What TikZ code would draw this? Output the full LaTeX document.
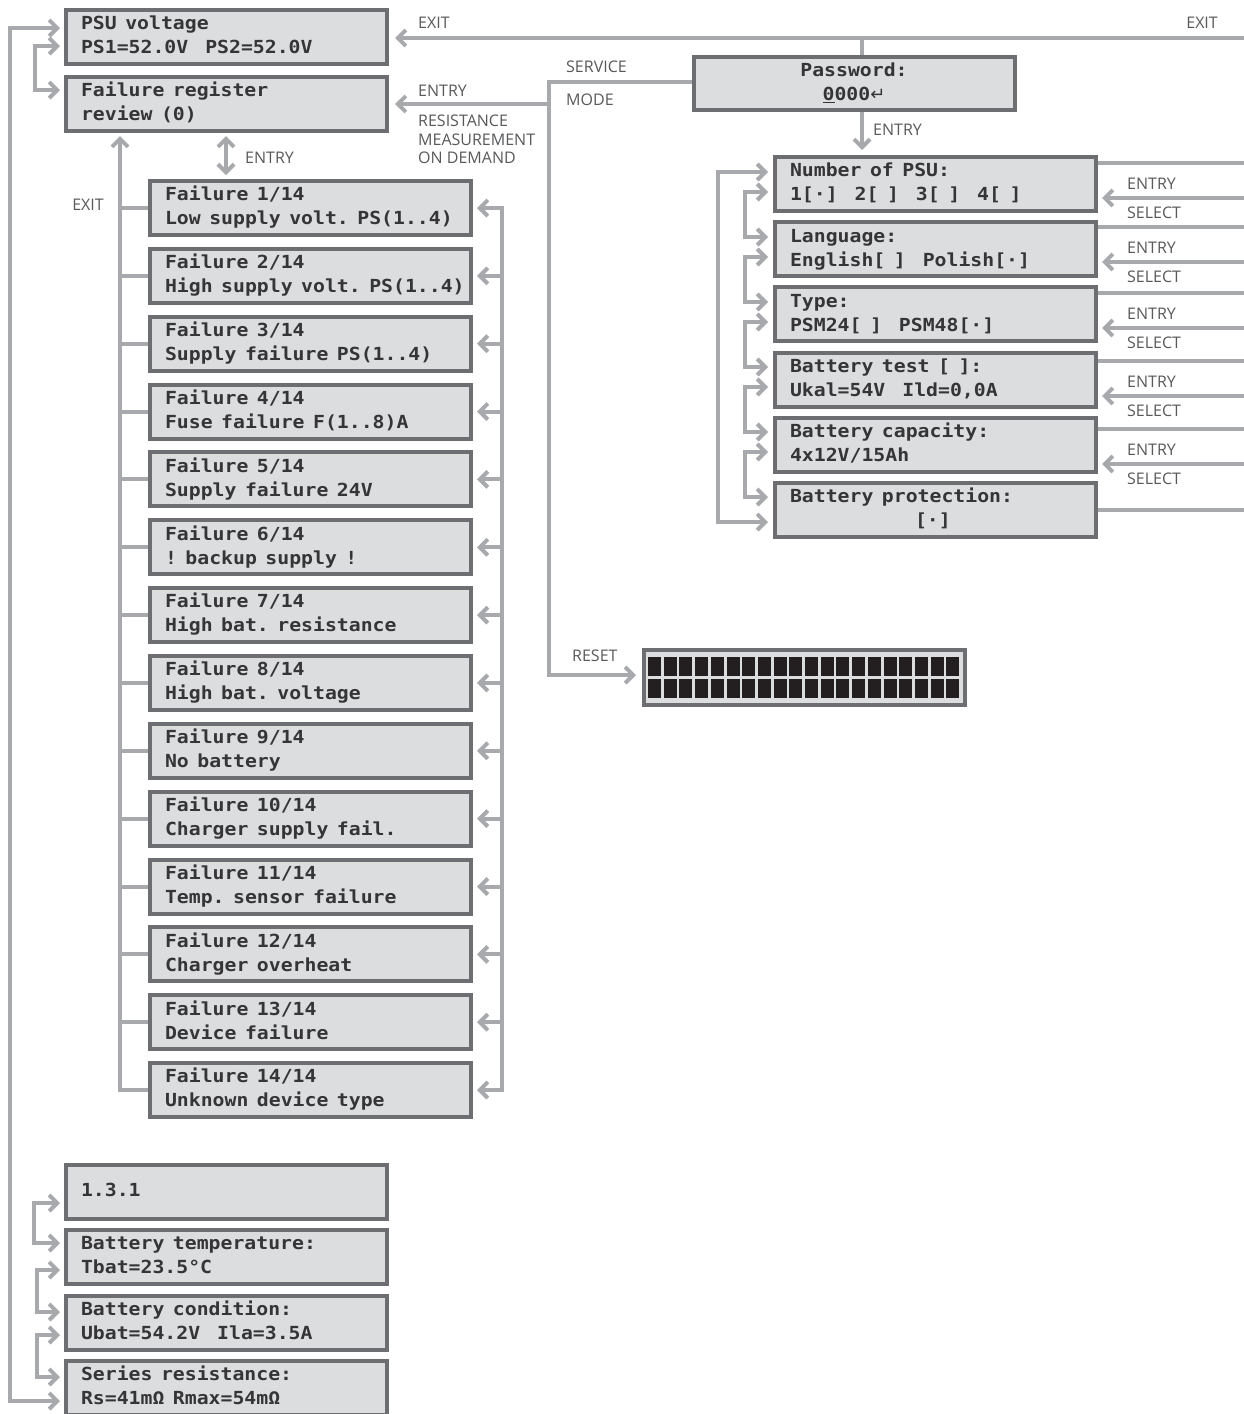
\documentclass[tikz,border=0pt]{standalone}
\usepackage{fontspec}
\usetikzlibrary{arrows.meta,calc}
\newfontfamily\lcdfont{DejaVu Sans Mono}[UprightFont=* Bold, FakeStretch=1.1]
\newfontfamily\lblfont{Open Sans}
\newfontfamily\symfont{DejaVu Sans}
\definecolor{boxfill}{HTML}{DCDDDE}
\definecolor{boxdraw}{HTML}{6D6E71}
\definecolor{conncol}{HTML}{A7A9AC}
\definecolor{lblcol}{HTML}{58595B}
\definecolor{lcdtext}{HTML}{353537}
\definecolor{blkcol}{HTML}{231F20}
\newcommand\lcdsp{\hspace*{8.5pt}}
\ExplSyntaxOn
\tl_new:N \l_lcd_line_tl
\cs_new_protected:Npn \lcdline #1
  {
    \tl_set:Nn \l_lcd_line_tl {#1}
    \tl_replace_all:Nnn \l_lcd_line_tl { ~ } { \lcdsp }
    \tl_replace_all:Nnn \l_lcd_line_tl { \  } { \lcdsp }
    \mbox { \l_lcd_line_tl }
  }
\ExplSyntaxOff
\newcommand\twol[2]{\strut\lcdline{#1}\\\strut\lcdline{#2}}
\newcommand\onel[1]{\strut\lcdline{#1}}
\newcommand\lcdsel{\lcdfont\fontsize{18}{24}\selectfont\frenchspacing}
\tikzset{
  lcdbox/.style={draw=boxdraw, fill=boxfill, line width=4pt, rectangle,
    minimum width=321pt, minimum height=54pt, inner xsep=15pt, inner ysep=0pt,
    text width=291pt, align=left, text=lcdtext, font=\lcdsel},
  conn/.style={draw=conncol, line width=4pt},
  lbl/.style={font=\lblfont\fontsize{16}{18.5}\selectfont, text=lblcol, inner sep=0pt},
  >={Straight Barb[length=8pt,width=16pt]}
}
\begin{document}
\begin{tikzpicture}[x=1pt,y=-1pt]
\fill[white] (0,0) rectangle (1243,1414);
\useasboundingbox (0,0) rectangle (1243,1414);

% ---------- left column boxes
\node[lcdbox] (psu) at (226.5,37) {\twol{PSU voltage}{PS1=52.0V\ \ PS2=52.0V}};
\node[lcdbox] (frr) at (226.5,104) {\twol{Failure register}{review (0)}};

\node[lcdbox] (f1) at (310.5,208) {\twol{Failure 1/14}{Low supply volt. PS(1..4)}};
\node[lcdbox] (f2) at (310.5,275.85) {\twol{Failure 2/14}{High supply volt. PS(1..4)}};
\node[lcdbox] (f3) at (310.5,343.7) {\twol{Failure 3/14}{Supply failure PS(1..4)}};
\node[lcdbox] (f4) at (310.5,411.55) {\twol{Failure 4/14}{Fuse failure F(1..8)A}};
\node[lcdbox] (f5) at (310.5,479.4) {\twol{Failure 5/14}{Supply failure 24V}};
\node[lcdbox] (f6) at (310.5,547.25) {\twol{Failure 6/14}{! backup supply !}};
\node[lcdbox] (f7) at (310.5,615.1) {\twol{Failure 7/14}{High bat. resistance}};
\node[lcdbox] (f8) at (310.5,682.95) {\twol{Failure 8/14}{High bat. voltage}};
\node[lcdbox] (f9) at (310.5,750.8) {\twol{Failure 9/14}{No battery}};
\node[lcdbox] (f10) at (310.5,818.65) {\twol{Failure 10/14}{Charger supply fail.}};
\node[lcdbox] (f11) at (310.5,886.5) {\twol{Failure 11/14}{Temp. sensor failure}};
\node[lcdbox] (f12) at (310.5,954.35) {\twol{Failure 12/14}{Charger overheat}};
\node[lcdbox] (f13) at (310.5,1022.2) {\twol{Failure 13/14}{Device failure}};
\node[lcdbox] (f14) at (310.5,1090.05) {\twol{Failure 14/14}{Unknown device type}};

\node[lcdbox] (b131) at (226.5,1192) {\onel{1.3.1}};
\node[lcdbox] (btemp) at (226.5,1257) {\twol{Battery temperature:}{Tbat=23.5°C}};
\node[lcdbox] (bcond) at (226.5,1323) {\twol{Battery condition:}{Ubat=54.2V\ \ Ila=3.5A}};
\node[lcdbox] (sres) at (226.5,1388) {\twol{Series resistance:}{Rs=41mΩ Rmax=54mΩ}};

% ---------- service side
\node[lcdbox, align=center, minimum height=53pt] (pw) at (854,83.5)
  {\twol{Password:}{\underline{0}000{\symfont ↵}}};
\node[lcdbox] (nop) at (935.5,184) {\twol{Number of PSU:}{1[·]\ \ 2[ ]\ \ 3[ ]\ \ 4[ ]}};
\node[lcdbox] (lang) at (935.5,249.2) {\twol{Language:}{English[ ]\ \ Polish[·]}};
\node[lcdbox] (type) at (935.5,314.4) {\twol{Type:}{PSM24[ ]\ \ PSM48[·]}};
\node[lcdbox] (btest) at (935.5,379.6) {\twol{Battery test [ ]:}{Ukal=54V\ \ Ild=0,0A}};
\node[lcdbox] (bcap) at (935.5,444.8) {\twol{Battery capacity:}{4x12V/15Ah}};
\node[lcdbox] (bprot) at (935.5,510) {\twol{Battery protection:}{\hspace*{125pt}[·]}};

% ---------- LCD display
\node[draw=boxdraw, fill=boxfill, line width=4pt, minimum width=321pt, minimum height=55pt, inner sep=0pt] (lcd) at (804.5,677.5) {};
\foreach \i in {0,...,19} {
  \fill[blkcol] (648+\i*15.7,657) rectangle ++(13,19);
  \fill[blkcol] (648+\i*15.7,679) rectangle ++(13,19);
}

% ---------- coordinates
\coordinate (exitR) at (1250,38);
\coordinate (exitJ) at (862,38);
\coordinate (smC) at (549,104);

% ---------- top EXIT line
\draw[conn,->,shorten >=6pt] (exitR) -- (psu.east |- exitR);
\draw[conn] (pw.north -| exitJ) -- (exitJ);
\node[lbl,anchor=west] (lexit1) at (418,23) {EXIT};
\node[lbl,anchor=east] (lexit2) at (1218,23) {EXIT};

% ---------- service mode / reset
\draw[conn,->,shorten >=6pt] (pw.west |- 0,82) -- (549,82) -- (549,675) -- (lcd.west |- 0,675);
\draw[conn,->,shorten >=6pt] (smC) -- (frr.east |- smC);
\node[lbl,anchor=west] (lserv) at (566,67) {SERVICE};
\node[lbl,anchor=west] (lmode) at (566,100) {MODE};
\node[lbl,anchor=west] (lentry1) at (418,91) {ENTRY};
\node[lbl,align=left,anchor=north west] (lres) at (418,115) {RESISTANCE\\MEASUREMENT\\ON DEMAND};
\node[lbl,anchor=west] (lreset) at (572,656) {RESET};

% ---------- password -> settings
\draw[conn,->,shorten >=5pt] (pw.south -| exitJ) -- (nop.north -| exitJ);
\node[lbl,anchor=west] (lentry2) at (873,130) {ENTRY};

% ---------- left main loops
\draw[conn,<->,shorten <=4pt,shorten >=4pt] (psu.west |- 0,28) -- (10,28) -- (10,1401) -- (sres.west |- 0,1401);
\draw[conn,<->,shorten <=4pt,shorten >=4pt] (psu.west |- 0,46) -- (35,46) -- (35,90) -- (frr.west |- 0,90);
\draw[conn,<->,shorten <=4pt,shorten >=4pt] (b131.west |- 0,1203) -- (34,1203) -- (34,1243) -- (btemp.west |- 0,1243);
\draw[conn,<->,shorten <=4pt,shorten >=4pt] (btemp.west |- 0,1270) -- (37,1270) -- (37,1312) -- (bcond.west |- 0,1312);
\draw[conn,<->,shorten <=4pt,shorten >=4pt] (bcond.west |- 0,1335) -- (37,1335) -- (37,1377) -- (sres.west |- 0,1377);

% ---------- failure register entry
\draw[conn,<->,shorten <=3pt,shorten >=4pt] (frr.south -| 226,0) -- (f1.north -| 226,0);
\node[lbl,anchor=west] (lentry3) at (245,158) {ENTRY};

% ---------- failure exit comb (left)
\foreach \i in {1,...,13} { \draw[conn] (f\i.west) -- (f\i.west -| 120,0); }
\draw[conn,->,shorten >=3pt] (f14.west) -- (f14.west -| 120,0) -- (frr.south -| 120,0);
\node[lbl] (lexit3) at (88,205) {EXIT};

% ---------- failure select comb (right)
\draw[conn,<->,shorten <=4pt,shorten >=4pt] (f1.east) -- (f1.east -| 502,0) -- (f14.east -| 502,0) -- (f14.east);
\foreach \i in {2,...,13} { \draw[conn,->,shorten >=4pt] (f\i.east -| 502,0) -- (f\i.east); }

% ---------- settings loops (left)
\draw[conn,<->,shorten <=5pt,shorten >=5pt] (nop.west |- 0,172) -- (718,172) -- (718,522) -- (bprot.west |- 0,522);
\foreach \a/\b/\ya/\yb in {nop/lang/192/237, lang/type/257/302, type/btest/322/367, btest/bcap/387/432, bcap/bprot/452/497} {
  \draw[conn,<->,shorten <=5pt,shorten >=5pt] (\a.west |- 0,\ya) -- (745,\ya) -- (745,\yb) -- (\b.west |- 0,\yb);
}

% ---------- settings lines (right)
\foreach \nm/\ya/\yb/\ye in {nop/163/198/184, lang/227/262/248, type/293/328/314, btest/361/396/382, bcap/429/464/450} {
  \coordinate (ra\nm) at (1250,\ya);
  \coordinate (rb\nm) at (1250,\yb);
  \draw[conn] (\nm.east |- ra\nm) -- (ra\nm);
  \draw[conn,->,shorten >=4pt] (rb\nm) -- (\nm.east |- rb\nm);
  \node[lbl,anchor=west] (le\nm) at (1127,\ye) {ENTRY};
  \node[lbl,anchor=west] (ls\nm) at (1127,\ye+29) {SELECT};
}
\coordinate (rabprot) at (1250,510);
\draw[conn] (bprot.east |- rabprot) -- (rabprot);
\end{tikzpicture}
\end{document}
